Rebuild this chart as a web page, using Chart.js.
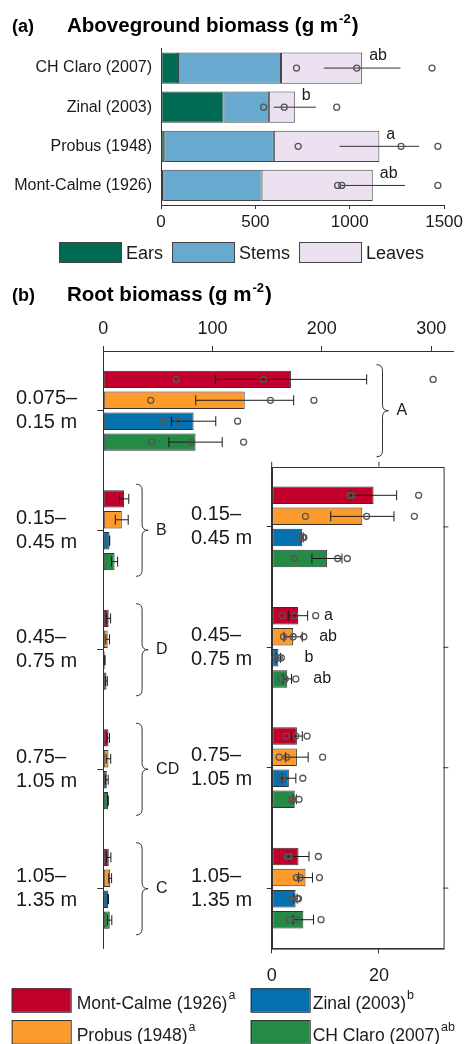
<!DOCTYPE html>
<html lang="en">
<head>
<meta charset="UTF-8">
<title>Aboveground and root biomass</title>
<script src="https://cdn.jsdelivr.net/npm/chart.js@4"></script>
<style>
  body { margin: 0; background: #fff; }
  #wrap { position: relative; width: 466px; height: 1044px; overflow: hidden; background: #fff; }
  canvas { position: absolute; left: 0; }
  #chartA { top: 0; }
  #chartB, #chartInset { top: 280px; }
</style>
</head>
<body>
<div id="wrap">
  <canvas id="chartA" width="466" height="280"></canvas>
  <canvas id="chartB" width="466" height="764"></canvas>
  <canvas id="chartInset" width="466" height="764"></canvas>
</div>
<script>
// ---- (a) aboveground biomass (g m-2), stacked parts ----
const aboveCats = ['CH Claro (2007)', 'Zinal (2003)', 'Probus (1948)', 'Mont-Calme (1926)'];
const earsVals = [90, 331, 17, 12];
const stemsVals = [546, 242, 581, 521];
const leavesVals = [430, 136, 559, 589];
const aboveErr = [203, 112, 211, 171];
const abovePoints = [[718, 1037, 1436], [544, 653, 931], [727, 1272, 1467], [936, 958, 1467]];
const aboveLetters = ['ab', 'b', 'a', 'ab'];
const aboveTicks = [0, 500, 1000, 1500];
const partNames = ['Ears', 'Stems', 'Leaves'];

// ---- (b) root biomass (g m-2) per depth ----
const depthLabels = [['0.075–', '0.15 m'], ['0.15–', '0.45 m'], ['0.45–', '0.75 m'], ['0.75–', '1.05 m'], ['1.05–', '1.35 m']];
const cultivars = ['Mont-Calme (1926)', 'Probus (1948)', 'Zinal (2003)', 'CH Claro (2007)'];
const cultivarLetters = ['a', 'a', 'b', 'ab'];

const montCalmeRoots = [171.7, 19.0, 4.9, 4.7, 5.0];
const probusRoots = [129.4, 16.9, 4.0, 4.7, 6.3];
const zinalRoots = [82.6, 5.7, 1.25, 3.2, 4.45];
const chClaroRoots = [84.4, 10.3, 2.9, 4.3, 5.9];

const montCalmeErr = [69.3, 4.3, 1.8, 1.0, 1.95];
const probusErr = [44.8, 5.9, 1.7, 2.1, 1.3];
const zinalErr = [20.3, 0.2, 0.4, 1.3, 0.3];
const chClaroErr = [24.4, 2.8, 0.8, 0.3, 1.9];

const montCalmePts = [[66.7, 146.5, 301.8], [14.6, 15.0, 27.4], [2.0, 4.3, 8.2], [2.7, 4.5, 6.6], [2.9, 3.3, 8.7]];
const probusPts = [[43.4, 152.9, 192.7], [6.3, 17.7, 26.6], [2.2, 4.0, 6.0], [1.4, 2.8, 9.5], [4.6, 5.3, 8.9]];
const zinalPts = [[55.0, 68.8, 122.9], [5.3, 5.8, 6.0], [0.6, 1.4, 1.8], [1.7, 2.0, 5.8], [3.5, 4.8, 5.0]];
const chClaroPts = [[44.3, 80.7, 128.4], [4.2, 12.3, 14.1], [1.7, 2.5, 4.5], [3.6, 4.0, 5.1], [3.3, 4.6, 9.2]];

const depthLetters = ['A', 'B', 'D', 'CD', 'C'];
const insetLetters = ['a', 'ab', 'b', 'ab'];   // depth 0.45–0.75 m
const rootTicks = [0, 100, 200, 300];
const insetTicks = [0, 20];

// ---- styling ----
const fam = '"Liberation Sans", Arial, Helvetica, sans-serif';
const partColors = ['#006a55', '#67a9cf', '#ebe1f0'];
const cultivarColors = ['#c1002b', '#fc9a2c', '#0571b0', '#238b45'];
const braceX = [250, 30, 30, 30, 30];   // where the group braces sit, in g m-2 of the main axis
const legendSlots = [[0, 0], [1, 0], [0, 1], [1, 1]];   // [row, col] per cultivar

Chart.defaults.font.family = fam;
Chart.defaults.color = '#1a1a1a';
Chart.defaults.animation = false;
Chart.defaults.plugins.legend.display = false;
Chart.defaults.plugins.tooltip.enabled = false;

const rootVals = [montCalmeRoots, probusRoots, zinalRoots, chClaroRoots];
const rootErrs = [montCalmeErr, probusErr, zinalErr, chClaroErr];
const rootPts = [montCalmePts, probusPts, zinalPts, chClaroPts];

function strokeLine(ctx, x1, y1, x2, y2) {
  ctx.beginPath(); ctx.moveTo(x1, y1); ctx.lineTo(x2, y2); ctx.stroke();
}
function drawRing(ctx, x, y, r) {
  ctx.beginPath(); ctx.arc(x, y, r, 0, Math.PI * 2); ctx.stroke();
}
function drawErrorBar(ctx, xs, mean, err, cy, cap) {
  const x1 = xs.getPixelForValue(mean - err), x2 = xs.getPixelForValue(mean + err);
  strokeLine(ctx, x1, cy, x2, cy);
  if (cap) {
    strokeLine(ctx, x1, cy - cap, x1, cy + cap);
    strokeLine(ctx, x2, cy - cap, x2, cy + cap);
  }
}
function drawBrace(ctx, x, top, bottom, w) {
  const mid = (top + bottom) / 2, r = w / 2;
  ctx.beginPath();
  ctx.moveTo(x, top);
  ctx.quadraticCurveTo(x + r, top, x + r, top + r);
  ctx.lineTo(x + r, mid - r);
  ctx.quadraticCurveTo(x + r, mid, x + w, mid);
  ctx.quadraticCurveTo(x + r, mid, x + r, mid + r);
  ctx.lineTo(x + r, bottom - r);
  ctx.quadraticCurveTo(x + r, bottom, x, bottom);
  ctx.stroke();
}
function drawPanelTitle(ctx, tag, text, y) {
  ctx.save();
  ctx.fillStyle = '#000';
  ctx.textAlign = 'left';
  ctx.textBaseline = 'alphabetic';
  ctx.font = 'bold 18px ' + fam;
  ctx.fillText(tag, 12, y);
  ctx.font = 'bold 20.5px ' + fam;
  ctx.fillText(text, 67, y);
  let x = 67 + ctx.measureText(text).width + 1;
  ctx.font = 'bold 13px ' + fam;
  ctx.fillText('-2', x, y - 9);
  x += ctx.measureText('-2').width + 1;
  ctx.font = 'bold 20.5px ' + fam;
  ctx.fillText(')', x, y);
  ctx.restore();
}

// ---------------- panel (a) ----------------
const aboveExtras = {
  id: 'aboveExtras',
  afterDatasetsDraw(chart) {
    const { ctx, scales: { x, y } } = chart;
    ctx.save();
    aboveCats.forEach((c, i) => {
      const total = earsVals[i] + stemsVals[i] + leavesVals[i];
      const cy = y.getPixelForValue(i);
      ctx.strokeStyle = '#333';
      ctx.lineWidth = 1;
      drawErrorBar(ctx, x, total, aboveErr[i], cy, 0);
      ctx.strokeStyle = '#555';
      ctx.lineWidth = 1.3;
      abovePoints[i].forEach(v => drawRing(ctx, x.getPixelForValue(v), cy, 3));
      ctx.fillStyle = '#1a1a1a';
      ctx.font = '16px ' + fam;
      ctx.textAlign = 'left';
      ctx.textBaseline = 'middle';
      ctx.fillText(aboveLetters[i], x.getPixelForValue(total) + 7, cy - 12);
    });
    ctx.restore();
  },
  afterDraw(chart) {
    const ctx = chart.ctx;
    drawPanelTitle(ctx, '(a)', 'Aboveground biomass (g m', 32);
    ctx.save();
    ctx.font = '18px ' + fam;
    ctx.textBaseline = 'alphabetic';
    let lx = 59;
    chart.data.datasets.forEach(ds => {
      ctx.fillStyle = ds.backgroundColor;
      ctx.fillRect(lx, 242, 62, 20);
      ctx.strokeStyle = '#444';
      ctx.lineWidth = 1;
      ctx.strokeRect(lx + 0.5, 242.5, 62, 20);
      ctx.fillStyle = '#1a1a1a';
      ctx.fillText(ds.label, lx + 67, 259);
      lx += 67 + ctx.measureText(ds.label).width + 9;
    });
    ctx.restore();
  }
};

new Chart(document.getElementById('chartA'), {
  type: 'bar',
  data: {
    labels: aboveCats,
    datasets: [earsVals, stemsVals, leavesVals].map((vals, k) => ({
      label: partNames[k],
      data: vals,
      backgroundColor: partColors[k],
      borderColor: '#444',
      borderWidth: 1,
      borderSkipped: false,
      categoryPercentage: 1,
      barPercentage: 0.8
    }))
  },
  options: {
    indexAxis: 'y',
    responsive: false,
    devicePixelRatio: 1,
    layout: { padding: { left: 0, right: 18, top: 48.5, bottom: 40 } },
    scales: {
      x: {
        stacked: true, min: 0, max: 1500,
        afterBuildTicks: s => { s.ticks = aboveTicks.map(v => ({ value: v })); },
        afterFit: s => { s.height = 35; },
        ticks: { font: { size: 17 }, padding: 3, color: '#1a1a1a', callback: v => String(v) },
        grid: { drawOnChartArea: false, tickLength: 4, color: '#333' },
        border: { color: '#333' }
      },
      y: {
        stacked: true,
        afterFit: s => { s.width = 161; },
        ticks: { font: { size: 16 }, padding: 9, color: '#1a1a1a' },
        grid: { display: false, drawTicks: false },
        border: { color: '#333' }
      }
    }
  },
  plugins: [aboveExtras]
});

// ---------------- panel (b), main axes ----------------
function rootDatasets(from) {
  return cultivars.map((name, k) => ({
    label: name,
    data: rootVals[k].slice(from),
    backgroundColor: cultivarColors[k],
    borderColor: '#333',
    borderWidth: 1,
    borderSkipped: false,
    categoryPercentage: 0.7,
    barPercentage: 0.83
  }));
}

const rootExtras = {
  id: 'rootExtras',
  afterDatasetsDraw(chart) {
    const { ctx, scales: { x } } = chart;
    ctx.save();
    cultivars.forEach((c, k) => {
      const meta = chart.getDatasetMeta(k);
      meta.data.forEach((el, i) => {
        ctx.strokeStyle = '#1a1a1a';
        ctx.lineWidth = 1;
        drawErrorBar(ctx, x, rootVals[k][i], rootErrs[k][i], el.y, 5);
        if (i === 0) {
          ctx.strokeStyle = '#555';
          ctx.lineWidth = 1.3;
          rootPts[k][i].forEach(v => drawRing(ctx, x.getPixelForValue(v), el.y, 3));
        }
      });
    });
    // braces with depth letters
    const first = chart.getDatasetMeta(0), last = chart.getDatasetMeta(cultivars.length - 1);
    ctx.strokeStyle = '#333';
    ctx.lineWidth = 1;
    ctx.fillStyle = '#1a1a1a';
    ctx.font = '16px ' + fam;
    ctx.textAlign = 'left';
    ctx.textBaseline = 'middle';
    depthLetters.forEach((letter, i) => {
      const top = first.data[i].y - first.data[i].height / 2 - 6;
      const bottom = last.data[i].y + last.data[i].height / 2 + 6;
      const bx = x.getPixelForValue(braceX[i]);
      drawBrace(ctx, bx, top, bottom, 12);
      ctx.fillText(letter, bx + 20, (top + bottom) / 2);
    });
    ctx.restore();
  },
  afterDraw(chart) {
    const ctx = chart.ctx;
    drawPanelTitle(ctx, '(b)', 'Root biomass (g m', 21);
    // legend, two columns
    ctx.save();
    ctx.textAlign = 'left';
    ctx.textBaseline = 'alphabetic';
    cultivars.forEach((name, k) => {
      const [row, col] = legendSlots[k];
      const bx = col === 0 ? 11.7 : 250.7;
      const by = row === 0 ? 708.3 : 740;
      const tx = bx + (col === 0 ? 65 : 62);
      ctx.fillStyle = cultivarColors[k];
      ctx.fillRect(bx, by, 59, 23.5);
      ctx.strokeStyle = '#333';
      ctx.lineWidth = 1;
      ctx.strokeRect(bx + 0.5, by + 0.5, 59, 23.5);
      ctx.fillStyle = '#1a1a1a';
      ctx.font = '17.5px ' + fam;
      ctx.fillText(name, tx, by + 21);
      const w = ctx.measureText(name).width;
      ctx.font = '12.5px ' + fam;
      ctx.fillText(cultivarLetters[k], tx + w + 1, by + 11);
    });
    ctx.restore();
  }
};

new Chart(document.getElementById('chartB'), {
  type: 'bar',
  data: { labels: depthLabels, datasets: rootDatasets(0) },
  options: {
    indexAxis: 'y',
    responsive: false,
    devicePixelRatio: 1,
    layout: { padding: { left: 16, right: 13, top: 31, bottom: 95.5 } },
    scales: {
      x: {
        position: 'top', min: 0, max: 320,
        afterBuildTicks: s => { s.ticks = rootTicks.map(v => ({ value: v })); },
        afterFit: s => { s.height = 40; },
        ticks: { font: { size: 18 }, padding: 6, color: '#1a1a1a' },
        grid: { drawOnChartArea: false, tickLength: 5, color: '#333' },
        border: { color: '#333' }
      },
      y: {
        afterFit: s => { s.width = 87.3; },
        ticks: { font: { size: 20 }, crossAlign: 'far', color: '#1a1a1a' },
        grid: { drawOnChartArea: false, offset: false, tickLength: 6, color: '#333' },
        border: { color: '#333' }
      }
    }
  },
  plugins: [rootExtras]
});

// ---------------- panel (b), zoomed inset for deeper layers ----------------
const insetExtras = {
  id: 'insetExtras',
  beforeDraw(chart) {
    const { ctx, chartArea: a } = chart;
    ctx.save();
    ctx.fillStyle = '#fff';
    ctx.fillRect(a.left, a.top, a.right - a.left, a.bottom - a.top);
    ctx.restore();
  },
  afterDatasetsDraw(chart) {
    const { ctx, scales: { x } } = chart;
    ctx.save();
    cultivars.forEach((c, k) => {
      chart.getDatasetMeta(k).data.forEach((el, j) => {
        const i = j + 1;
        ctx.strokeStyle = '#1a1a1a';
        ctx.lineWidth = 1;
        drawErrorBar(ctx, x, rootVals[k][i], rootErrs[k][i], el.y, 5);
        ctx.strokeStyle = '#555';
        ctx.lineWidth = 1.3;
        rootPts[k][i].forEach(v => drawRing(ctx, x.getPixelForValue(v), el.y, 3));
        if (j === 1) {
          ctx.fillStyle = '#1a1a1a';
          ctx.font = '16px ' + fam;
          ctx.textAlign = 'left';
          ctx.textBaseline = 'middle';
          ctx.fillText(insetLetters[k], x.getPixelForValue(rootVals[k][i]) + 26, el.y);
        }
      });
    });
    ctx.restore();
  },
  afterDraw(chart) {
    const { ctx, chartArea: a, scales: { x, y } } = chart;
    ctx.save();
    ctx.strokeStyle = '#333';
    ctx.lineWidth = 1;
    ctx.strokeRect(Math.round(a.left) + 0.5, Math.round(a.top) + 0.5, a.right - a.left, a.bottom - a.top);
    insetTicks.forEach(v => {
      const px = x.getPixelForValue(v);
      strokeLine(ctx, px, a.top, px, a.top - 5);
    });
    y.ticks.forEach((t, i) => {
      const py = y.getPixelForValue(i);
      strokeLine(ctx, a.right, py, a.right + 5, py);
    });
    ctx.restore();
  }
};

new Chart(document.getElementById('chartInset'), {
  type: 'bar',
  data: { labels: depthLabels.slice(1), datasets: rootDatasets(1) },
  options: {
    indexAxis: 'y',
    responsive: false,
    devicePixelRatio: 1,
    layout: { padding: { left: 191, right: 22.7, top: 186.7, bottom: 55.7 } },
    scales: {
      x: {
        min: 0, max: 32,
        afterBuildTicks: s => { s.ticks = insetTicks.map(v => ({ value: v })); },
        afterFit: s => { s.height = 40; },
        ticks: { font: { size: 18 }, padding: 12, color: '#1a1a1a' },
        grid: { drawOnChartArea: false, tickLength: 5, color: '#333' },
        border: { color: '#333' }
      },
      y: {
        afterFit: s => { s.width = 80.7; },
        ticks: { font: { size: 20 }, crossAlign: 'far', color: '#1a1a1a' },
        grid: { drawOnChartArea: false, offset: false, tickLength: 5, color: '#333' },
        border: { color: '#333' }
      }
    }
  },
  plugins: [insetExtras]
});
</script>
</body>
</html>
